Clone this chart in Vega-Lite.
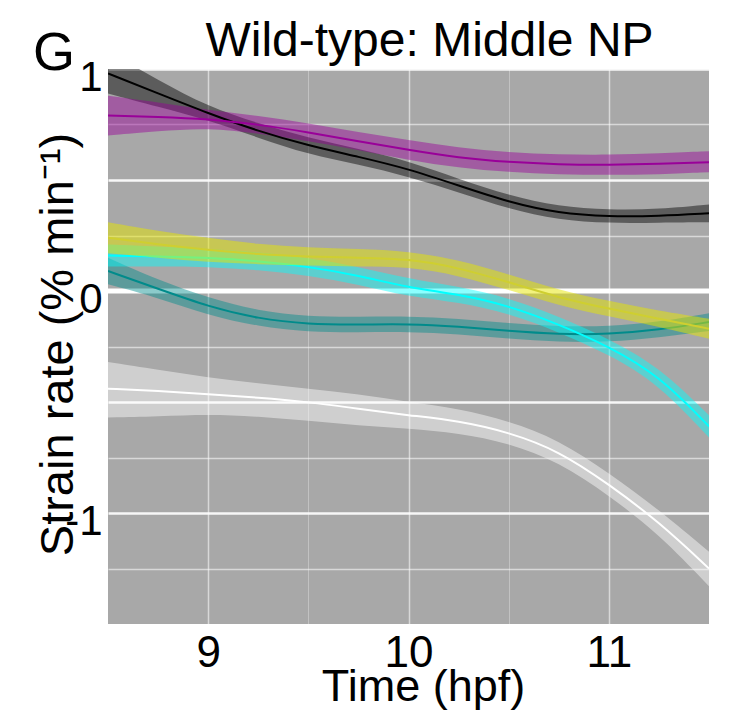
{
  "$schema": "https://vega.github.io/schema/vega-lite/v6.json",
  "width": 601,
  "height": 555,
  "autosize": {"type": "none"},
  "padding": {"left": 108, "top": 69, "right": 30, "bottom": 94},
  "background": "white",
  "config": {"view": {"fill": "#a8a8a8", "stroke": null}, "font": "Liberation Sans"},
  "title": {"text": "Wild-type: Middle NP", "fontSize": 48, "fontWeight": "normal", "anchor": "middle", "frame": "group", "dx": 21, "dy": 91, "offset": 14, "baseline": "alphabetic", "color": "black", "font": "Liberation Sans"},
  "datasets": {
    "curves": [
      {"series": "black", "t": 8.5, "y": 0.98, "lo": 0.89, "hi": 1.08},
      {"series": "black", "t": 8.75, "y": 0.89, "lo": 0.83, "hi": 0.95},
      {"series": "black", "t": 9, "y": 0.8, "lo": 0.77, "hi": 0.83},
      {"series": "black", "t": 9.25, "y": 0.72, "lo": 0.69, "hi": 0.755},
      {"series": "black", "t": 9.5, "y": 0.655, "lo": 0.615, "hi": 0.69},
      {"series": "black", "t": 9.75, "y": 0.605, "lo": 0.57, "hi": 0.64},
      {"series": "black", "t": 10, "y": 0.55, "lo": 0.515, "hi": 0.585},
      {"series": "black", "t": 10.25, "y": 0.475, "lo": 0.445, "hi": 0.505},
      {"series": "black", "t": 10.5, "y": 0.4, "lo": 0.37, "hi": 0.43},
      {"series": "black", "t": 10.75, "y": 0.35, "lo": 0.32, "hi": 0.38},
      {"series": "black", "t": 11, "y": 0.335, "lo": 0.305, "hi": 0.365},
      {"series": "black", "t": 11.25, "y": 0.338, "lo": 0.308, "hi": 0.368},
      {"series": "black", "t": 11.5, "y": 0.35, "lo": 0.31, "hi": 0.39},
      {"series": "purple", "t": 8.5, "y": 0.79, "lo": 0.7, "hi": 0.88},
      {"series": "purple", "t": 8.75, "y": 0.785, "lo": 0.72, "hi": 0.85},
      {"series": "purple", "t": 9, "y": 0.775, "lo": 0.735, "hi": 0.815},
      {"series": "purple", "t": 9.25, "y": 0.75, "lo": 0.71, "hi": 0.79},
      {"series": "purple", "t": 9.5, "y": 0.715, "lo": 0.675, "hi": 0.755},
      {"series": "purple", "t": 9.75, "y": 0.675, "lo": 0.635, "hi": 0.715},
      {"series": "purple", "t": 10, "y": 0.635, "lo": 0.59, "hi": 0.68},
      {"series": "purple", "t": 10.25, "y": 0.6, "lo": 0.555, "hi": 0.645},
      {"series": "purple", "t": 10.5, "y": 0.58, "lo": 0.535, "hi": 0.625},
      {"series": "purple", "t": 10.75, "y": 0.57, "lo": 0.525, "hi": 0.615},
      {"series": "purple", "t": 11, "y": 0.568, "lo": 0.523, "hi": 0.613},
      {"series": "purple", "t": 11.25, "y": 0.572, "lo": 0.525, "hi": 0.62},
      {"series": "purple", "t": 11.5, "y": 0.58, "lo": 0.535, "hi": 0.63},
      {"series": "yellow", "t": 8.5, "y": 0.24, "lo": 0.17, "hi": 0.31},
      {"series": "yellow", "t": 8.75, "y": 0.21, "lo": 0.15, "hi": 0.27},
      {"series": "yellow", "t": 9, "y": 0.185, "lo": 0.13, "hi": 0.24},
      {"series": "yellow", "t": 9.25, "y": 0.165, "lo": 0.12, "hi": 0.21},
      {"series": "yellow", "t": 9.5, "y": 0.155, "lo": 0.115, "hi": 0.195},
      {"series": "yellow", "t": 9.75, "y": 0.15, "lo": 0.11, "hi": 0.19},
      {"series": "yellow", "t": 10, "y": 0.145, "lo": 0.11, "hi": 0.18},
      {"series": "yellow", "t": 10.25, "y": 0.105, "lo": 0.07, "hi": 0.14},
      {"series": "yellow", "t": 10.5, "y": 0.04, "lo": 0.005, "hi": 0.075},
      {"series": "yellow", "t": 10.75, "y": -0.03, "lo": -0.065, "hi": 0.005},
      {"series": "yellow", "t": 11, "y": -0.08, "lo": -0.115, "hi": -0.045},
      {"series": "yellow", "t": 11.25, "y": -0.125, "lo": -0.16, "hi": -0.09},
      {"series": "yellow", "t": 11.5, "y": -0.17, "lo": -0.215, "hi": -0.125},
      {"series": "teal", "t": 8.5, "y": 0.09, "lo": 0.03, "hi": 0.15},
      {"series": "teal", "t": 8.75, "y": 0.01, "lo": -0.03, "hi": 0.05},
      {"series": "teal", "t": 9, "y": -0.07, "lo": -0.11, "hi": -0.03},
      {"series": "teal", "t": 9.25, "y": -0.125, "lo": -0.16, "hi": -0.09},
      {"series": "teal", "t": 9.5, "y": -0.15, "lo": -0.185, "hi": -0.115},
      {"series": "teal", "t": 9.75, "y": -0.152, "lo": -0.187, "hi": -0.117},
      {"series": "teal", "t": 10, "y": -0.148, "lo": -0.183, "hi": -0.113},
      {"series": "teal", "t": 10.25, "y": -0.16, "lo": -0.195, "hi": -0.125},
      {"series": "teal", "t": 10.5, "y": -0.18, "lo": -0.215, "hi": -0.145},
      {"series": "teal", "t": 10.75, "y": -0.195, "lo": -0.23, "hi": -0.16},
      {"series": "teal", "t": 11, "y": -0.195, "lo": -0.23, "hi": -0.16},
      {"series": "teal", "t": 11.25, "y": -0.175, "lo": -0.21, "hi": -0.14},
      {"series": "teal", "t": 11.5, "y": -0.14, "lo": -0.18, "hi": -0.1},
      {"series": "cyan", "t": 8.5, "y": 0.16, "lo": 0.11, "hi": 0.21},
      {"series": "cyan", "t": 8.75, "y": 0.155, "lo": 0.11, "hi": 0.2},
      {"series": "cyan", "t": 9, "y": 0.15, "lo": 0.11, "hi": 0.19},
      {"series": "cyan", "t": 9.25, "y": 0.135, "lo": 0.095, "hi": 0.175},
      {"series": "cyan", "t": 9.5, "y": 0.11, "lo": 0.07, "hi": 0.15},
      {"series": "cyan", "t": 9.75, "y": 0.07, "lo": 0.03, "hi": 0.11},
      {"series": "cyan", "t": 10, "y": 0.015, "lo": -0.025, "hi": 0.055},
      {"series": "cyan", "t": 10.25, "y": -0.015, "lo": -0.05, "hi": 0.02},
      {"series": "cyan", "t": 10.5, "y": -0.066, "lo": -0.1, "hi": -0.03},
      {"series": "cyan", "t": 10.75, "y": -0.15, "lo": -0.185, "hi": -0.115},
      {"series": "cyan", "t": 11, "y": -0.25, "lo": -0.285, "hi": -0.215},
      {"series": "cyan", "t": 11.25, "y": -0.38, "lo": -0.42, "hi": -0.34},
      {"series": "cyan", "t": 11.5, "y": -0.61, "lo": -0.66, "hi": -0.56},
      {"series": "white", "t": 8.5, "y": -0.44, "lo": -0.57, "hi": -0.32},
      {"series": "white", "t": 8.75, "y": -0.45, "lo": -0.565, "hi": -0.355},
      {"series": "white", "t": 9, "y": -0.465, "lo": -0.555, "hi": -0.39},
      {"series": "white", "t": 9.25, "y": -0.48, "lo": -0.565, "hi": -0.415},
      {"series": "white", "t": 9.5, "y": -0.5, "lo": -0.585, "hi": -0.44},
      {"series": "white", "t": 9.75, "y": -0.53, "lo": -0.605, "hi": -0.465},
      {"series": "white", "t": 10, "y": -0.56, "lo": -0.62, "hi": -0.5},
      {"series": "white", "t": 10.25, "y": -0.585, "lo": -0.64, "hi": -0.53},
      {"series": "white", "t": 10.5, "y": -0.636, "lo": -0.685, "hi": -0.585},
      {"series": "white", "t": 10.75, "y": -0.72, "lo": -0.77, "hi": -0.67},
      {"series": "white", "t": 11, "y": -0.87, "lo": -0.92, "hi": -0.82},
      {"series": "white", "t": 11.25, "y": -1.04, "lo": -1.095, "hi": -0.985},
      {"series": "white", "t": 11.5, "y": -1.25, "lo": -1.33, "hi": -1.175}
    ],
    "zero": [{"y": 0}],
    "panel": [{"label": "G", "t": 8.5, "v": 1.0}]
  },
  "layer": [
    {
      "data": {"name": "zero"},
      "mark": {"type": "rule", "color": "white", "strokeWidth": 5},
      "encoding": {
        "y": {
          "field": "y", "type": "quantitative",
          "scale": {"domain": [-1.5, 1.0], "nice": false, "zero": false},
          "axis": {
            "values": [-1.25, -1, -0.75, -0.5, -0.25, 0, 0.25, 0.5, 0.75, 1],
            "labelExpr": "datum.value === 1 ? '1' : datum.value === 0 ? '0' : datum.value === -1 ? '-1' : ''",
            "title": "Strain rate (% min⁻¹)",
            "domain": false, "ticks": false, "tickSize": 0,
            "labelFontSize": 42, "labelPadding": 6, "labelOffset": 8, "labelColor": "black",
            "labelFlush": false, "labelOverlap": false, "labelFont": "Liberation Sans",
            "gridColor": "white",
            "gridWidth": {"condition": {"test": "datum.value % 0.5 === 0", "value": 2.5}, "value": 1.5},
            "gridOpacity": {"condition": {"test": "datum.value % 0.5 === 0", "value": 0.9}, "value": 0.55},
            "titleFontSize": 47, "titleFontWeight": "normal", "titleColor": "black", "titleFont": "Liberation Sans",
            "titleX": -36, "titleY": 275, "titleAngle": 270, "titleBaseline": "alphabetic", "titleAlign": "center"
          }
        }
      }
    },
    {
      "data": {"name": "curves"},
      "transform": [{"filter": "datum.series !== 'yellow'"}],
      "mark": {"type": "area", "opacity": 0.45, "interpolate": "basis", "clip": true},
      "encoding": {
        "x": {
          "field": "t", "type": "quantitative",
          "scale": {"domain": [8.5, 11.5], "nice": false, "zero": false},
          "axis": {
            "values": [9, 9.5, 10, 10.5, 11],
            "labelExpr": "datum.value % 1 === 0 ? format(datum.value, 'd') : ''",
            "title": "Time (hpf)",
            "domain": false, "ticks": false, "tickSize": 0,
            "labelFontSize": 44, "labelPadding": 42, "labelBaseline": "alphabetic", "labelColor": "black",
            "labelFont": "Liberation Sans", "labelFlush": false, "labelOverlap": false,
            "gridColor": "white",
            "gridWidth": {"condition": {"test": "datum.value % 1 === 0", "value": 1.5}, "value": 1},
            "gridOpacity": {"condition": {"test": "datum.value % 1 === 0", "value": 0.55}, "value": 0.3},
            "titleFontSize": 45, "titleFontWeight": "normal", "titleColor": "black", "titleFont": "Liberation Sans",
            "titleX": 315, "titleY": 76, "titleBaseline": "alphabetic", "titleAlign": "center"
          }
        },
        "y": {"field": "lo", "type": "quantitative", "stack": null},
        "y2": {"field": "hi"},
        "color": {
          "field": "series", "type": "nominal", "legend": null,
          "scale": {"domain": ["black", "purple", "teal", "cyan", "white"], "range": ["#000000", "#990099", "#008b8b", "#00ffff", "#ffffff"]}
        }
      }
    },
    {
      "data": {"name": "curves"},
      "transform": [{"filter": "datum.series !== 'yellow'"}],
      "mark": {"type": "line", "strokeWidth": 2, "interpolate": "basis", "clip": true},
      "encoding": {
        "x": {"field": "t", "type": "quantitative"},
        "y": {"field": "y", "type": "quantitative"},
        "color": {"field": "series", "type": "nominal", "legend": null}
      }
    },
    {
      "data": {"name": "curves"},
      "transform": [{"filter": "datum.series === 'yellow'"}],
      "mark": {"type": "area", "opacity": 0.5, "interpolate": "basis", "clip": true, "color": "#e5e500"},
      "encoding": {
        "x": {"field": "t", "type": "quantitative"},
        "y": {"field": "lo", "type": "quantitative", "stack": null},
        "y2": {"field": "hi"}
      }
    },
    {
      "data": {"name": "curves"},
      "transform": [{"filter": "datum.series === 'yellow'"}],
      "mark": {"type": "line", "strokeWidth": 2, "interpolate": "basis", "clip": true, "color": "#cfcf30"},
      "encoding": {
        "x": {"field": "t", "type": "quantitative"},
        "y": {"field": "y", "type": "quantitative"}
      }
    },
    {
      "data": {"name": "panel"},
      "mark": {"type": "text", "fontSize": 54, "align": "right", "baseline": "alphabetic", "dx": -33, "dy": 1, "color": "black", "font": "Liberation Sans"},
      "encoding": {
        "x": {"field": "t", "type": "quantitative"},
        "y": {"field": "v", "type": "quantitative"},
        "text": {"field": "label"}
      }
    }
  ]
}
